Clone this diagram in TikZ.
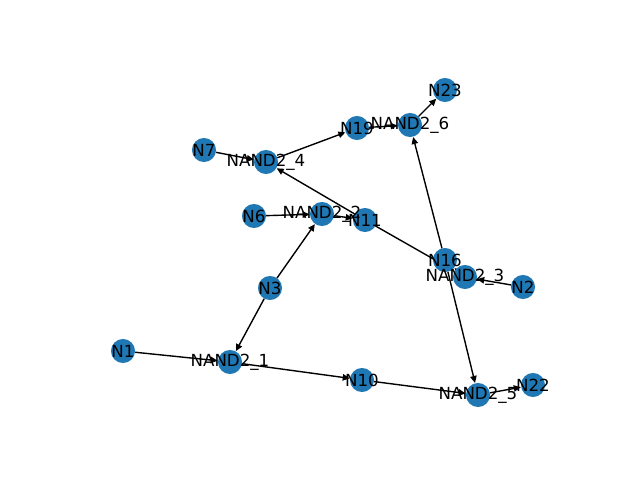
\documentclass[tikz,border=0pt]{standalone}
\usepackage{fontspec}
\setmainfont{DejaVu Sans}
\usetikzlibrary{arrows.meta}
\pgfdeclarelayer{background}
\pgfsetlayers{background,main}
\definecolor{nxblue}{HTML}{1F77B4}
\tikzset{
  disk/.style={circle, fill=nxblue, minimum size=17.3pt, inner sep=0pt, outer sep=0pt},
  lbl/.style={inner sep=0pt, font=\fontsize{12pt}{14pt}\selectfont, text=black},
  edge/.style={line width=1pt, black, -{Triangle[length=5pt,width=4.6pt]}, shorten >=0.3pt}
}
\begin{document}
\begin{tikzpicture}[x=0.72pt, y=-0.72pt]
\useasboundingbox (0,0) rectangle (640,480);
% nodes
\node[disk] (n23) at (445,90) {};
\node[disk] (n19) at (357,128) {};
\node[disk] (g6) at (410,125) {};
\node[disk] (n7) at (204,150) {};
\node[disk] (g4) at (266,162) {};
\node[disk] (n6) at (254,216) {};
\node[disk] (g2) at (322,214) {};
\node[disk] (n11) at (365,220) {};
\node[disk] (g3) at (465,277) {};
\node[disk] (n16) at (445,260) {};
\node[disk] (n2) at (523,287) {};
\node[disk] (n3) at (270,288) {};
\node[disk] (n1) at (123,351) {};
\node[disk] (g1) at (230,362) {};
\node[disk] (n10) at (362,380) {};
\node[disk] (g5) at (478,395) {};
\node[disk] (n22) at (533,385) {};
% edges
\begin{pgfonlayer}{background}
\draw[edge] (n1) -- (g1);
\draw[edge] (n3) -- (g1);
\draw[edge] (n3) -- (g2);
\draw[edge] (n6) -- (g2);
\draw[edge] (g1) -- (n10);
\draw[edge] (g2) -- (n11);
\draw[edge] (n11) -- (g3);
\draw[edge] (n2) -- (g3);
\draw[edge] (g3) -- (n16);
\draw[edge] (n11) -- (g4);
\draw[edge] (n7) -- (g4);
\draw[edge] (g4) -- (n19);
\draw[edge] (n10) -- (g5);
\draw[edge] (n16) -- (g5);
\draw[edge] (n16) -- (g6);
\draw[edge] (n19) -- (g6);
\draw[edge] (g5) -- (n22);
\draw[edge] (g6) -- (n23);
\end{pgfonlayer}
% labels
\node[lbl] (ln23) at (n23.center) {N23};
\node[lbl] (ln19) at (n19.center) {N19};
\node[lbl] (lg6) at (g6.center) {NAND2\_6};
\node[lbl] (ln7) at (n7.center) {N7};
\node[lbl] (lg4) at (g4.center) {NAND2\_4};
\node[lbl] (ln6) at (n6.center) {N6};
\node[lbl] (lg2) at (g2.center) {NAND2\_2};
\node[lbl] (ln11) at (n11.center) {N11};
\node[lbl] (lg3) at (g3.center) {NAND2\_3};
\node[lbl] (ln16) at (n16.center) {N16};
\node[lbl] (ln2) at (n2.center) {N2};
\node[lbl] (ln3) at (n3.center) {N3};
\node[lbl] (ln1) at (n1.center) {N1};
\node[lbl] (lg1) at (g1.center) {NAND2\_1};
\node[lbl] (ln10) at (n10.center) {N10};
\node[lbl] (lg5) at (g5.center) {NAND2\_5};
\node[lbl] (ln22) at (n22.center) {N22};
\end{tikzpicture}
\end{document}
